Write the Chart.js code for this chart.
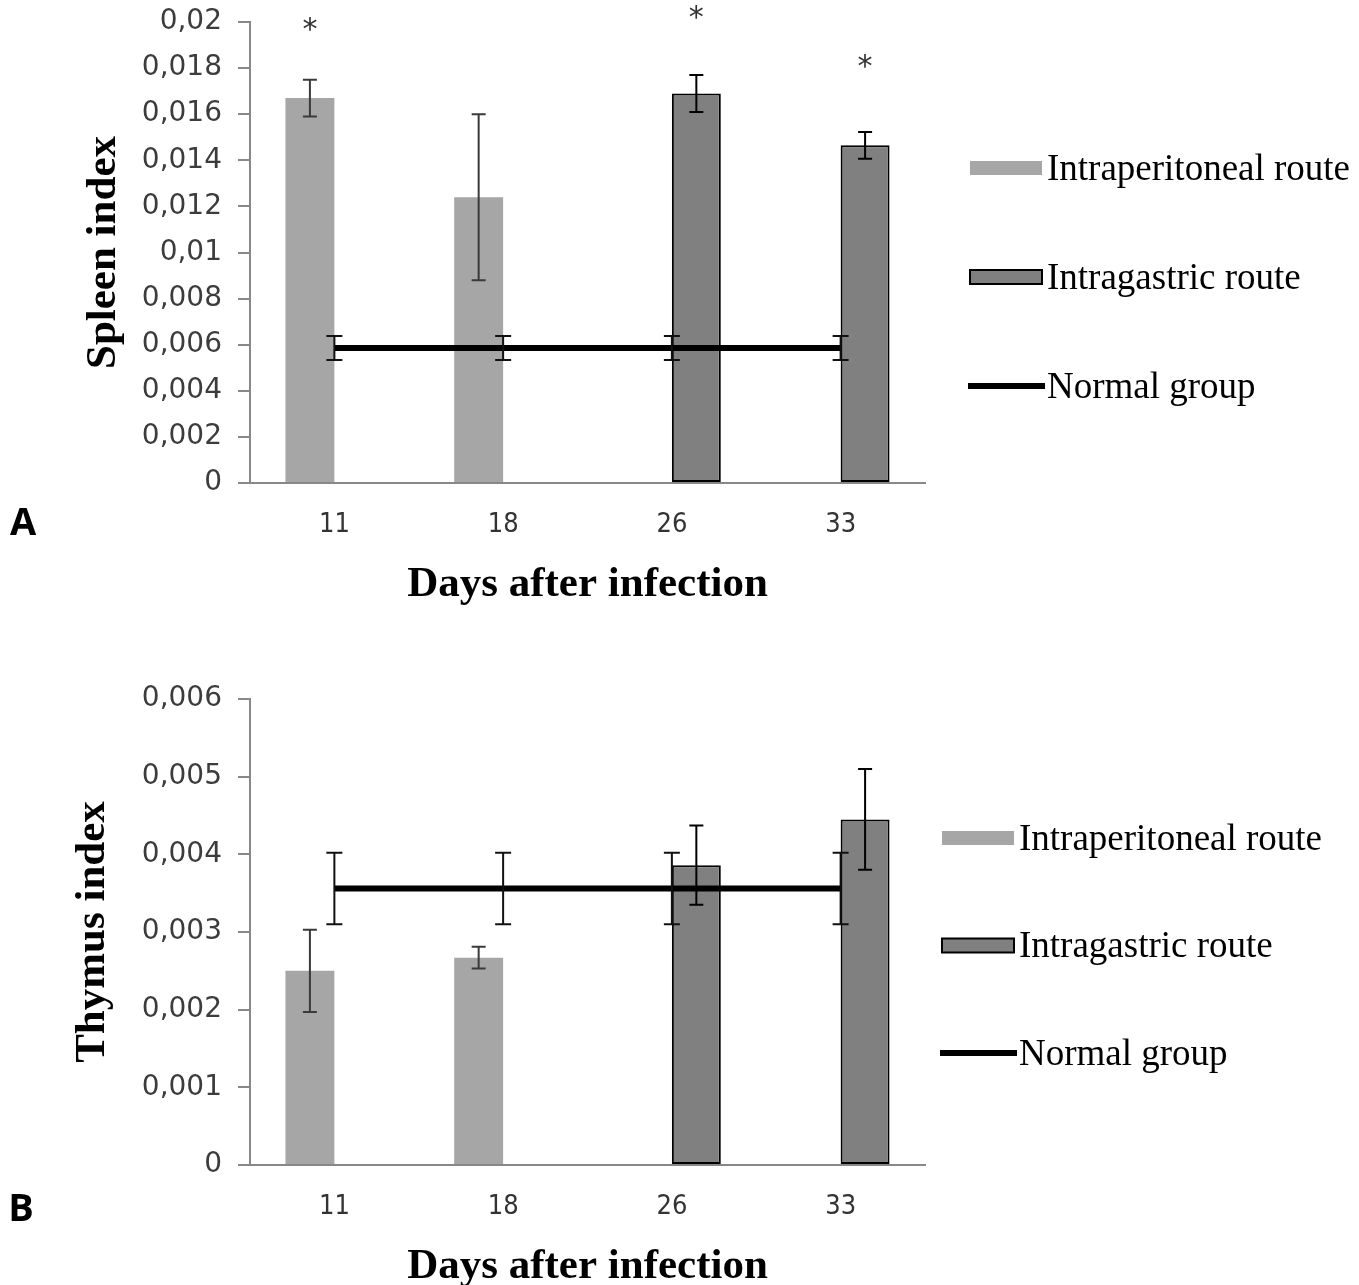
<!DOCTYPE html>
<html>
<head>
<meta charset="utf-8">
<script src="https://cdn.jsdelivr.net/npm/chart.js@4.4.1/dist/chart.umd.min.js"></script>
<style>
    body { margin: 0; background: #fff; width: 1359px; height: 1285px; position: relative; overflow: hidden; }
    canvas { position: absolute; left: 0; }
    #chart-a { top: 0; }
    #chart-b { top: 640px; }
</style>
</head>
<body>
<canvas id="chart-a" width="1359" height="620"></canvas>
<canvas id="chart-b" width="1359" height="645"></canvas>
<script>
// categories + series names
const days = ['11', '18', '26', '33'];
const seriesNames = ['Intraperitoneal route', 'Intragastric route', 'Normal group'];

// A - spleen index
const spleenTicks = [0, 0.002, 0.004, 0.006, 0.008, 0.01, 0.012, 0.014, 0.016, 0.018, 0.02];
const spleenTickLabels = ['0', '0,002', '0,004', '0,006', '0,008', '0,01', '0,012', '0,014', '0,016', '0,018', '0,02'];
const spleenIp = [0.0167, 0.0124, null, null];
const spleenIpErr = [0.0008, 0.0036, null, null];
const spleenIg = [null, null, 0.0169, 0.01465];
const spleenIgErr = [null, null, 0.0008, 0.00058];
const spleenNormal = [0.00586, 0.00586, 0.00586, 0.00586];
const spleenNormalErr = [0.00052, 0.00052, 0.00052, 0.00052];
const spleenStars = [0.01996, null, 0.02048, 0.01835];

// B - thymus index
const thymusTicks = [0, 0.001, 0.002, 0.003, 0.004, 0.005, 0.006];
const thymusTickLabels = ['0', '0,001', '0,002', '0,003', '0,004', '0,005', '0,006'];
const thymusIp = [0.0025, 0.00267, null, null];
const thymusIpErr = [0.00053, 0.00014, null, null];
const thymusIg = [null, null, 0.00386, 0.00445];
const thymusIgErr = [null, null, 0.00051, 0.00065];
const thymusNormal = [0.00356, 0.00356, 0.00356, 0.00356];
const thymusNormalErr = [0.00046, 0.00046, 0.00046, 0.00046];

const errorBars = {
    id: 'errorBars',
    afterDatasetsDraw(chart) {
        const ctx = chart.ctx;
        const y = chart.scales.y;
        chart.data.datasets.forEach((ds, i) => {
            if (!ds.errors) return;
            const meta = chart.getDatasetMeta(i);
            meta.data.forEach((el, j) => {
                const v = ds.data[j], e = ds.errors[j];
                if (v == null || e == null) return;
                const x = el.x;
                const top = y.getPixelForValue(v + e);
                const bot = y.getPixelForValue(v - e);
                const cap = ds.capHalf || 7;
                ctx.save();
                ctx.strokeStyle = ds.errColor;
                ctx.lineWidth = 2;
                ctx.beginPath();
                ctx.moveTo(x, top); ctx.lineTo(x, bot);
                ctx.moveTo(x - cap, top); ctx.lineTo(x + cap, top);
                ctx.moveTo(x - cap, bot); ctx.lineTo(x + cap, bot);
                ctx.stroke();
                ctx.restore();
            });
        });
    }
};

const stars = {
    id: 'stars',
    afterDatasetsDraw(chart, args, opts) {
        if (!opts.values) return;
        const ctx = chart.ctx;
        const y = chart.scales.y;
        ctx.save();
        ctx.font = '30px "DejaVu Sans"';
        ctx.fillStyle = '#333';
        ctx.textAlign = 'center';
        ctx.textBaseline = 'alphabetic';
        opts.values.forEach((v, j) => {
            if (v == null) return;
            const di = chart.data.datasets.findIndex(d => d.type !== 'line' && d.data[j] != null);
            const x = chart.getDatasetMeta(di).data[j].x;
            ctx.fillText('*', x, y.getPixelForValue(v) + 16);
        });
        ctx.restore();
    }
};

// legend on the right + panel letter
const sideLegend = {
    id: 'sideLegend',
    afterDraw(chart, args, opts) {
        const ctx = chart.ctx;
        ctx.save();
        chart.data.datasets.forEach((ds, i) => {
            const cy = opts.y + i * opts.gap;
            if (ds.type === 'line') {
                ctx.fillStyle = ds.borderColor;
                ctx.fillRect(opts.x - 2, cy - 3, 77, 6);
            } else {
                ctx.fillStyle = ds.backgroundColor;
                ctx.fillRect(opts.x, cy - 7, 72, 14);
                if (ds.borderWidth) {
                    ctx.lineWidth = 2;
                    ctx.strokeStyle = ds.borderColor;
                    ctx.strokeRect(opts.x, cy - 7, 72, 14);
                }
            }
            ctx.fillStyle = '#000';
            ctx.font = '37px "Liberation Serif"';
            ctx.textAlign = 'left';
            ctx.textBaseline = 'middle';
            ctx.fillText(ds.label, opts.x + 77, cy + 2);
        });
        ctx.font = 'bold 38px "Open Sans"';
        ctx.textAlign = 'center';
        ctx.fillText(opts.panel, opts.panelX, opts.panelY);
        ctx.restore();
    }
};

function makeChart(id, p) {
    return new Chart(document.getElementById(id), {
        type: 'bar',
        data: {
            labels: days,
            datasets: [{
                label: seriesNames[0], data: p.ip, errors: p.ipErr, errColor: '#3a3a3a',
                backgroundColor: '#a6a6a6', borderWidth: 0, order: 1,
                categoryPercentage: 0.58, barPercentage: 1
            }, {
                label: seriesNames[1], data: p.ig, errors: p.igErr, errColor: '#000',
                backgroundColor: '#808080', borderColor: '#000', borderWidth: 2, borderSkipped: false, order: 1,
                categoryPercentage: 0.58, barPercentage: 1
            }, {
                type: 'line', label: seriesNames[2], data: p.normal, errors: p.normalErr, errColor: '#111', capHalf: 8,
                borderColor: '#000', borderWidth: 6, pointRadius: 0, fill: false, order: 0
            }]
        },
        options: {
            responsive: false,
            animation: false,
            layout: { padding: { top: p.padTop, right: 434, bottom: p.padBottom, left: 0 } },
            scales: {
                x: {
                    afterFit: s => { s.height = 120; },
                    grid: { display: false, drawTicks: false },
                    border: { display: true, color: '#888', width: 2 },
                    ticks: { padding: 26, color: '#333', font: { family: "'DejaVu Sans Condensed', 'DejaVu Sans'", size: 27 } },
                    title: {
                        display: true, text: 'Days after infection', color: '#000',
                        font: { family: 'Liberation Serif', size: 43, weight: 'bold', lineHeight: 1 },
                        padding: { top: 0, bottom: -3 }
                    }
                },
                y: {
                    min: 0,
                    max: p.ticks[p.ticks.length - 1],
                    afterBuildTicks: s => { s.ticks = p.ticks.map(v => ({ value: v })); },
                    afterFit: s => { s.width = 250; s.paddingTop = 0; s.paddingBottom = 0; },
                    grid: { display: true, drawOnChartArea: false, drawTicks: true, tickLength: 12, color: '#888', lineWidth: 2 },
                    border: { display: true, color: '#888', width: 2 },
                    ticks: { padding: 16, color: '#3c3c3c', font: { family: 'DejaVu Sans', size: 28 }, callback: (v, i) => p.tickLabels[i] },
                    title: {
                        display: true, text: p.yTitle, color: '#000',
                        font: { family: 'Liberation Serif', size: 43, weight: 'bold', lineHeight: 1 },
                        padding: { top: p.titleX - 21, bottom: 0 }
                    }
                }
            },
            plugins: {
                legend: { display: false },
                tooltip: { enabled: false },
                stars: { values: p.stars },
                sideLegend: p.legend
            }
        },
        plugins: [errorBars, stars, sideLegend]
    });
}

makeChart('chart-a', {
    ip: spleenIp, ipErr: spleenIpErr, ig: spleenIg, igErr: spleenIgErr,
    normal: spleenNormal, normalErr: spleenNormalErr, stars: spleenStars,
    ticks: spleenTicks, tickLabels: spleenTickLabels, yTitle: 'Spleen index',
    padTop: 22, padBottom: 17, titleX: 103,
    legend: { x: 970, y: 168, gap: 109, panel: 'A', panelX: 23, panelY: 524 }
});

makeChart('chart-b', {
    ip: thymusIp, ipErr: thymusIpErr, ig: thymusIg, igErr: thymusIgErr,
    normal: thymusNormal, normalErr: thymusNormalErr, stars: null,
    ticks: thymusTicks, tickLabels: thymusTickLabels, yTitle: 'Thymus index',
    padTop: 59, padBottom: 0, titleX: 92,
    legend: { x: 942, y: 198, gap: 107.5, panel: 'B', panelX: 21, panelY: 570 }
});
</script>
</body>
</html>
